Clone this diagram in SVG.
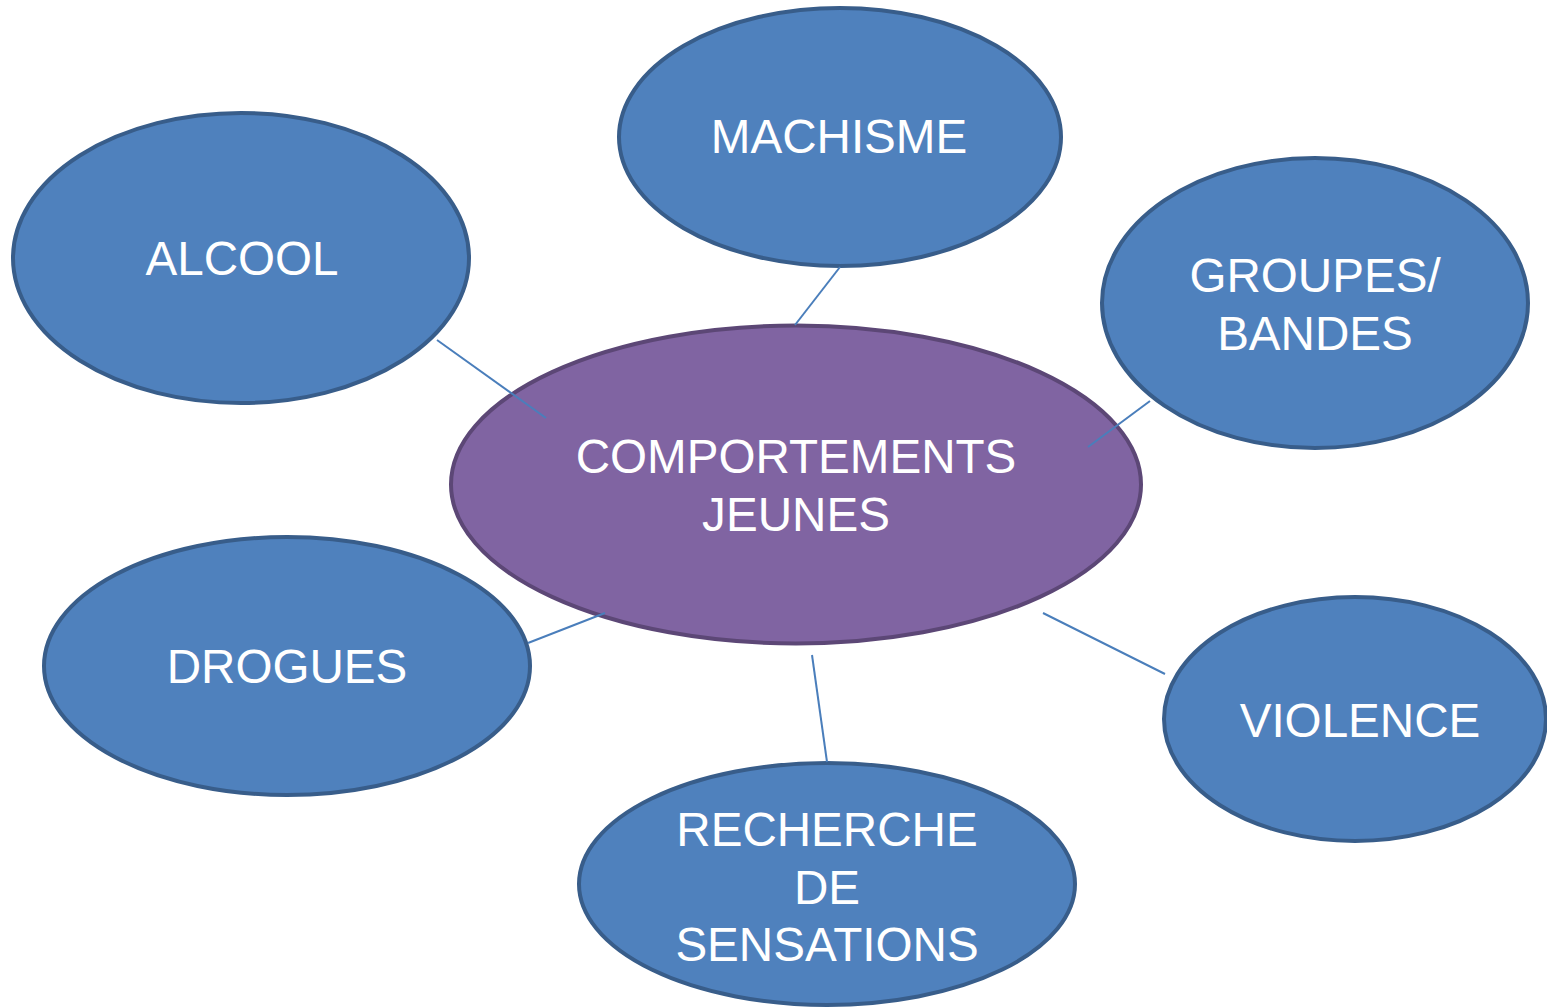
<svg xmlns="http://www.w3.org/2000/svg" width="1547" height="1007" viewBox="0 0 1547 1007">
<style>
.b{fill:#4f81bd;stroke:#385d8a;stroke-width:4}
.p{fill:#8064a2;stroke:#5c4776;stroke-width:4}
.t{fill:#ffffff;font-family:"Liberation Sans",Arial,sans-serif;font-size:47.6px;text-anchor:middle}
.c{stroke:#4a7ebb;stroke-width:2;fill:none}
</style>
<rect width="1547" height="1007" fill="#ffffff"/>
<g id="n-center">
<ellipse class="p" cx="796" cy="484.5" rx="345" ry="159"/>
<text class="t" x="796" y="473">COMPORTEMENTS</text>
<text class="t" x="796" y="531">JEUNES</text>
</g>
<g id="n-machisme">
<ellipse class="b" cx="840" cy="137" rx="221" ry="129"/>
<text class="t" x="839" y="153">MACHISME</text>
</g>
<g id="n-alcool">
<ellipse class="b" cx="241" cy="258" rx="228" ry="145"/>
<text class="t" x="242" y="275">ALCOOL</text>
</g>
<g id="n-groupes">
<ellipse class="b" cx="1315" cy="303" rx="213" ry="145"/>
<text class="t" x="1315" y="292">GROUPES/</text>
<text class="t" x="1315" y="350">BANDES</text>
</g>
<g id="n-drogues">
<ellipse class="b" cx="287" cy="666" rx="243" ry="129"/>
<text class="t" x="287" y="683">DROGUES</text>
</g>
<g id="n-violence">
<ellipse class="b" cx="1355" cy="719" rx="191" ry="122"/>
<text class="t" x="1360" y="737">VIOLENCE</text>
</g>
<g id="n-recherche">
<ellipse class="b" cx="827" cy="884" rx="248" ry="121"/>
<text class="t" x="827" y="846">RECHERCHE</text>
<text class="t" x="827" y="904">DE</text>
<text class="t" x="827" y="961">SENSATIONS</text>
</g>
<g id="connectors">
<line class="c" x1="840" y1="267" x2="795" y2="325"/>
<line class="c" x1="437" y1="340" x2="546" y2="418"/>
<line class="c" x1="1150" y1="401" x2="1088" y2="447"/>
<line class="c" x1="528" y1="643" x2="605" y2="613"/>
<line class="c" x1="1043" y1="613" x2="1165" y2="674"/>
<line class="c" x1="812" y1="655" x2="827" y2="762"/>
</g>
</svg>
